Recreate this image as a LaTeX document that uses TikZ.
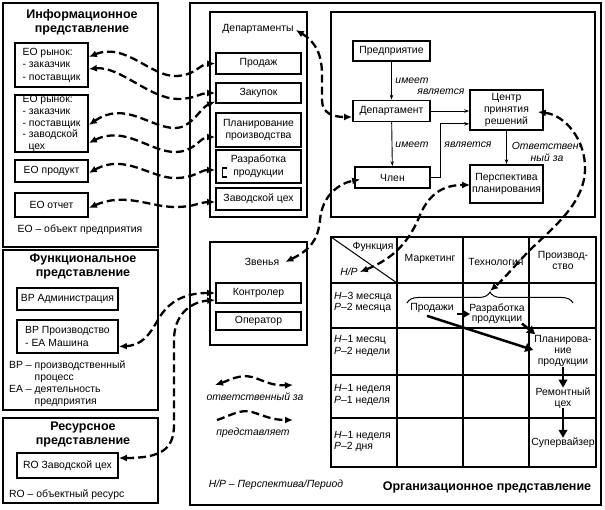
\documentclass[tikz,border=0pt]{standalone}
\usepackage{fontspec}
\setmainfont{Liberation Sans}
\usetikzlibrary{arrows.meta,calc,decorations.pathreplacing}
\begin{document}
\begin{tikzpicture}[x=1pt,y=-1pt,
  font=\fontsize{10.4}{12.5}\selectfont,
  panel/.style={draw, line width=1.9pt},
  bigpanel/.style={draw, line width=2.3pt},
  box/.style={draw, line width=1.7pt, inner sep=1pt, align=center},
  lbl/.style={inner sep=0pt, align=center},
  ital/.style={inner sep=0pt, align=center, font=\fontsize{10.4}{12}\selectfont\itshape},
  ttl/.style={inner sep=0pt, align=center, font=\fontsize{12.5}{14.5}\selectfont\bfseries},
  resp/.style={line width=2.3pt, dash pattern=on 8pt off 4pt, {Latex[length=8pt,width=7pt]}-{Latex[length=8pt,width=7pt]}},
  repr/.style={line width=2.3pt, dash pattern=on 8pt off 4pt, -{Latex[length=8pt,width=7pt]}},
  rel/.style={line width=0.9pt, -{Stealth[length=5pt,width=3.5pt]}},
  bigarr/.style={line width=2.5pt, -{Triangle[length=8pt,width=8.5pt]}},
  grid/.style={line width=1.4pt}
]
\useasboundingbox (0,0) rectangle (605,510);

% ---------- frames ----------
\draw[panel] (3,3) rectangle (158,247);
\draw[panel] (3,250) rectangle (158,410);
\draw[panel] (3,418) rectangle (158,503);
\draw[bigpanel] (190,3) rectangle (601,505);
\draw[panel] (210,12) rectangle (307,217);
\draw[panel] (210,242) rectangle (307,345);
\draw[panel] (331,12) rectangle (595,217);

% ---------- information view ----------
\node[ttl] (tinfo) at (82,22.5) {Информационное\\представление};
\node[box, minimum width=73pt, minimum height=44pt, align=left] (eo1) at (51.5,65) {EO рынок:\\- заказчик\\- поставщик};
\node[box, minimum width=73pt, minimum height=57pt, align=left, inner sep=0.5pt,
      font=\fontsize{10.4}{11.6}\selectfont] (eo2) at (51.5,123.5) {EO рынок:\\- заказчик\\- поставщик\\- заводской\\\hspace{6pt}цех};
\node[box, minimum width=73pt, minimum height=22pt] (eo3) at (51.5,171) {EO продукт};
\node[box, minimum width=73pt, minimum height=24pt] (eo4) at (51.5,205) {EO отчет};
\node[lbl] (eolg) at (80,230) {EO – объект предприятия};

% ---------- functional view ----------
\node[ttl] (tfunc) at (83,266.5) {Функциональное\\представление};
\node[box, minimum width=101pt, minimum height=22pt] (bpa) at (67.5,299) {BP Администрация};
\node[box, minimum width=101pt, minimum height=33pt, align=left] (bpp) at (67.5,336.5) {BP Производство\\- EA Машина};
\node[lbl, anchor=north west, align=left, font=\fontsize{10.4}{11.7}\selectfont] (bplg) at (9,361)
  {BP – производственный\\\phantom{BP – }процесс\\EA – деятельность\\\phantom{BP – }предприятия};

% ---------- resource view ----------
\node[ttl] (tres) at (83,434.5) {Ресурсное\\представление};
\node[box, minimum width=101pt, minimum height=25pt] (ro) at (67.5,465.5) {RO Заводской цех};
\node[lbl, anchor=west] (rolg) at (9,495) {RO – объектный ресурс};

% ---------- departments ----------
\node[lbl] (deplab) at (258,29) {Департаменты};
\node[box, minimum width=85pt, minimum height=21pt] (prod) at (258.5,63.5) {Продаж};
\node[box, minimum width=85pt, minimum height=20pt] (zak) at (258.5,93) {Закупок};
\node[box, minimum width=85pt, minimum height=34pt] (plan) at (258.5,130) {Планирование\\производства};
\node[box, minimum width=85pt, minimum height=33pt] (razr) at (258.5,166.5) {Разработка\\продукции};
\draw[line width=1.3pt] (227,168) -- (222.5,168) -- (222.5,177) -- (227,177);
\node[box, minimum width=85pt, minimum height=22pt] (zavod) at (258.5,199) {Заводской цех};

% ---------- links ----------
\node[lbl] (zvlab) at (262,262) {Звенья};
\node[box, minimum width=85pt, minimum height=20pt] (kontr) at (258.5,293) {Контролер};
\node[box, minimum width=85pt, minimum height=18pt] (oper) at (258.5,321) {Оператор};

% ---------- legend ----------
\coordinate (la1) at (215,385);
\coordinate (la2) at (293,385);
\coordinate (lb1) at (217,420);
\coordinate (lb2) at (293,420);
\draw[resp] (la1) .. controls (230,380) and (240,374) .. (252,377) .. controls (265,381) and (272,386) .. (la2);
\node[ital] (lgresp) at (255,397) {ответственный за};
\draw[repr] (lb1) .. controls (232,415) and (240,409) .. (252,412) .. controls (265,416) and (272,420) .. (lb2);
\node[ital] (lgrepr) at (253,433) {представляет};
\node[ital] (lghp) at (276,485) {H/P – Перспектива/Период};
\node[ttl] (torg) at (487,487) {Организационное представление};

% ---------- entity diagram ----------
\node[box, minimum width=77pt, minimum height=20pt] (pred) at (391.5,51) {Предприятие};
\node[box, minimum width=77pt, minimum height=21pt] (dep) at (391.5,111) {Департамент};
\node[box, minimum width=75pt, minimum height=21pt] (chlen) at (392.5,177.5) {Член};
\node[box, minimum width=73pt, minimum height=40pt, font=\fontsize{10.4}{11.8}\selectfont] (centr) at (506.5,110) {Центр\\принятия\\решений};
\node[box, minimum width=73pt, minimum height=38pt] (persp) at (506.5,184) {Перспектива\\планирования};

\draw[rel] (pred) -- (dep);
\draw[rel] (dep) -- (chlen);
\draw[rel] (dep.east) -- (dep.east -| centr.west);
\draw[rel] (chlen.east) -- ++(10,0) |- ($(centr.south west)+(0,-7)$);
\draw[rel] (centr) -- (persp);
\node[ital] (im1) at (412,81) {имеет};
\node[ital] (im2) at (412,145) {имеет};
\node[ital] (ya1) at (441,92) {является};
\node[ital] (ya2) at (468,145) {является};
\node[ital] (otv) at (547,151.5) {Ответствен-\\ный за};

% ---------- GRAI grid ----------
\draw[grid] (331,237) rectangle (596,467);
\foreach \yy in {283,328,375,418} \draw[grid] (331,\yy) -- (596,\yy);
\foreach \xx in {397,463,529} \draw[grid] (\xx,237) -- (\xx,467);
\draw[line width=1pt] (331,237) -- (397,283);
\node[lbl] (hfun) at (373,247) {Функция};
\node[ital] (hhp) at (349,272) {H/P};
\node[lbl] (hmk) at (430,259) {Маркетинг};
\node[lbl] (hte) at (496,262) {Технология};
\node[lbl, font=\fontsize{10.4}{11}\selectfont] (hpr) at (563,260) {Производ-\\ство};
\node[lbl, anchor=west, align=left, font=\fontsize{10.4}{11.3}\selectfont] (r1) at (334,302.5) {\textit{H}–3 месяца\\\textit{P}–2 месяца};
\node[lbl, anchor=west, align=left, font=\fontsize{10.4}{11.3}\selectfont] (r2) at (334,346) {\textit{H}–1 месяц\\\textit{P}–2 недели};
\node[lbl, anchor=west, align=left, font=\fontsize{10.4}{11.3}\selectfont] (r3) at (334,395) {\textit{H}–1 неделя\\\textit{P}–1 неделя};
\node[lbl, anchor=west, align=left, font=\fontsize{10.4}{11.3}\selectfont] (r4) at (334,441.5) {\textit{H}–1 неделя\\\textit{P}–2 дня};

\draw[line width=1pt, decorate, decoration={brace, amplitude=11pt}] (407,303) -- (573,303);
\coordinate (bracetip) at (490,291);

\node[lbl] (prodazhi) at (432,308) {Продажи};
\node[lbl, font=\fontsize{10.4}{10}\selectfont] (razrab) at (497,313.5) {Разработка\\продукции};
\node[lbl, font=\fontsize{10.4}{11}\selectfont] (planpr) at (563,351) {Планирова-\\ние\\продукции};
\node[lbl, font=\fontsize{10.4}{10.5}\selectfont] (remont) at (563,398) {Ремонтный\\цех};
\node[lbl] (super) at (563,443) {Супервайзер};

\draw[bigarr] ($(prodazhi.east)+(3,6)$) -- ($(razrab.west)+(1,0.5)$);
\draw[bigarr] ($(razrab.south east)+(-3,0)$) -- ($(planpr.north west)+(1,-1)$);
\draw[bigarr] ($(prodazhi.south)+(-5,3)$) -- ($(planpr.west)+(-1,-1)$);
\draw[bigarr] (planpr.south) -- (remont.north);
\draw[bigarr] (remont.south) -- (super.north);

% ---------- dashed connectors ----------
\draw[resp] ($(eo1.east)+(0,-8)$) .. controls (125,42) and (150,76) .. (175,76) .. controls (195,76) and (200,64) .. (prod.west);
\draw[resp] ($(eo1.east)+(0,4)$) .. controls (120,66) and (150,99) .. (178,99) .. controls (195,99) and (200,93) .. (zak.west);
\draw[resp] ($(eo2.east)+(0,1.5)$) .. controls (125,100) and (150,128) .. (175,128) .. controls (192,128) and (200,108) .. ($(zak.west)+(0,8.5)$);
\draw[resp] ($(eo2.east)+(0,19.5)$) .. controls (125,125) and (150,152) .. (175,152) .. controls (195,152) and (200,137) .. ($(plan.west)+(0,7)$);
\draw[resp] ($(eo3.east)+(0,2)$) .. controls (125,153) and (150,178) .. (175,178) .. controls (195,178) and (200,170) .. ($(razr.west)+(0,3.5)$);
\draw[resp] ($(eo4.east)+(0,3)$) .. controls (125,192) and (150,207) .. (175,207) .. controls (195,207) and (200,202) .. ($(zavod.west)+(0,3)$);

\draw[resp] ($(deplab.east)+(2,1)$) .. controls (316,42) and (322,55) .. (322,75) -- (322,100) .. controls (322,114) and (334,117) .. ($(dep.west)+(0,6)$);
\draw[resp] ($(zvlab.east)+(6,0)$) .. controls (310,250) and (318,240) .. (320,220) .. controls (322,195) and (340,183) .. ($(chlen.west)+(6,2)$);
\draw[resp] ($(hhp.east)+(2,0)$) .. controls (395,258) and (410,240) .. (420,215) .. controls (430,192) and (445,185) .. ($(persp.west)+(1,1)$);
\draw[resp] ($(centr.east)+(-6,2)$) .. controls (565,115) and (586,140) .. (585,170) .. controls (584,205) and (550,230) .. (530,250) .. controls (515,265) and (505,278) .. (bracetip);

\draw[resp] ($(bpp.east)+(0,10)$) .. controls (150,345) and (155,320) .. (165,310) .. controls (175,298) and (190,293) .. (kontr.west);
\draw[resp] ($(ro.east)+(0,-7.5)$) .. controls (160,458) and (174,450) .. (174,425) -- (174,340) .. controls (174,315) and (190,302) .. ($(kontr.west)+(0,7)$);
\end{tikzpicture}
\end{document}
